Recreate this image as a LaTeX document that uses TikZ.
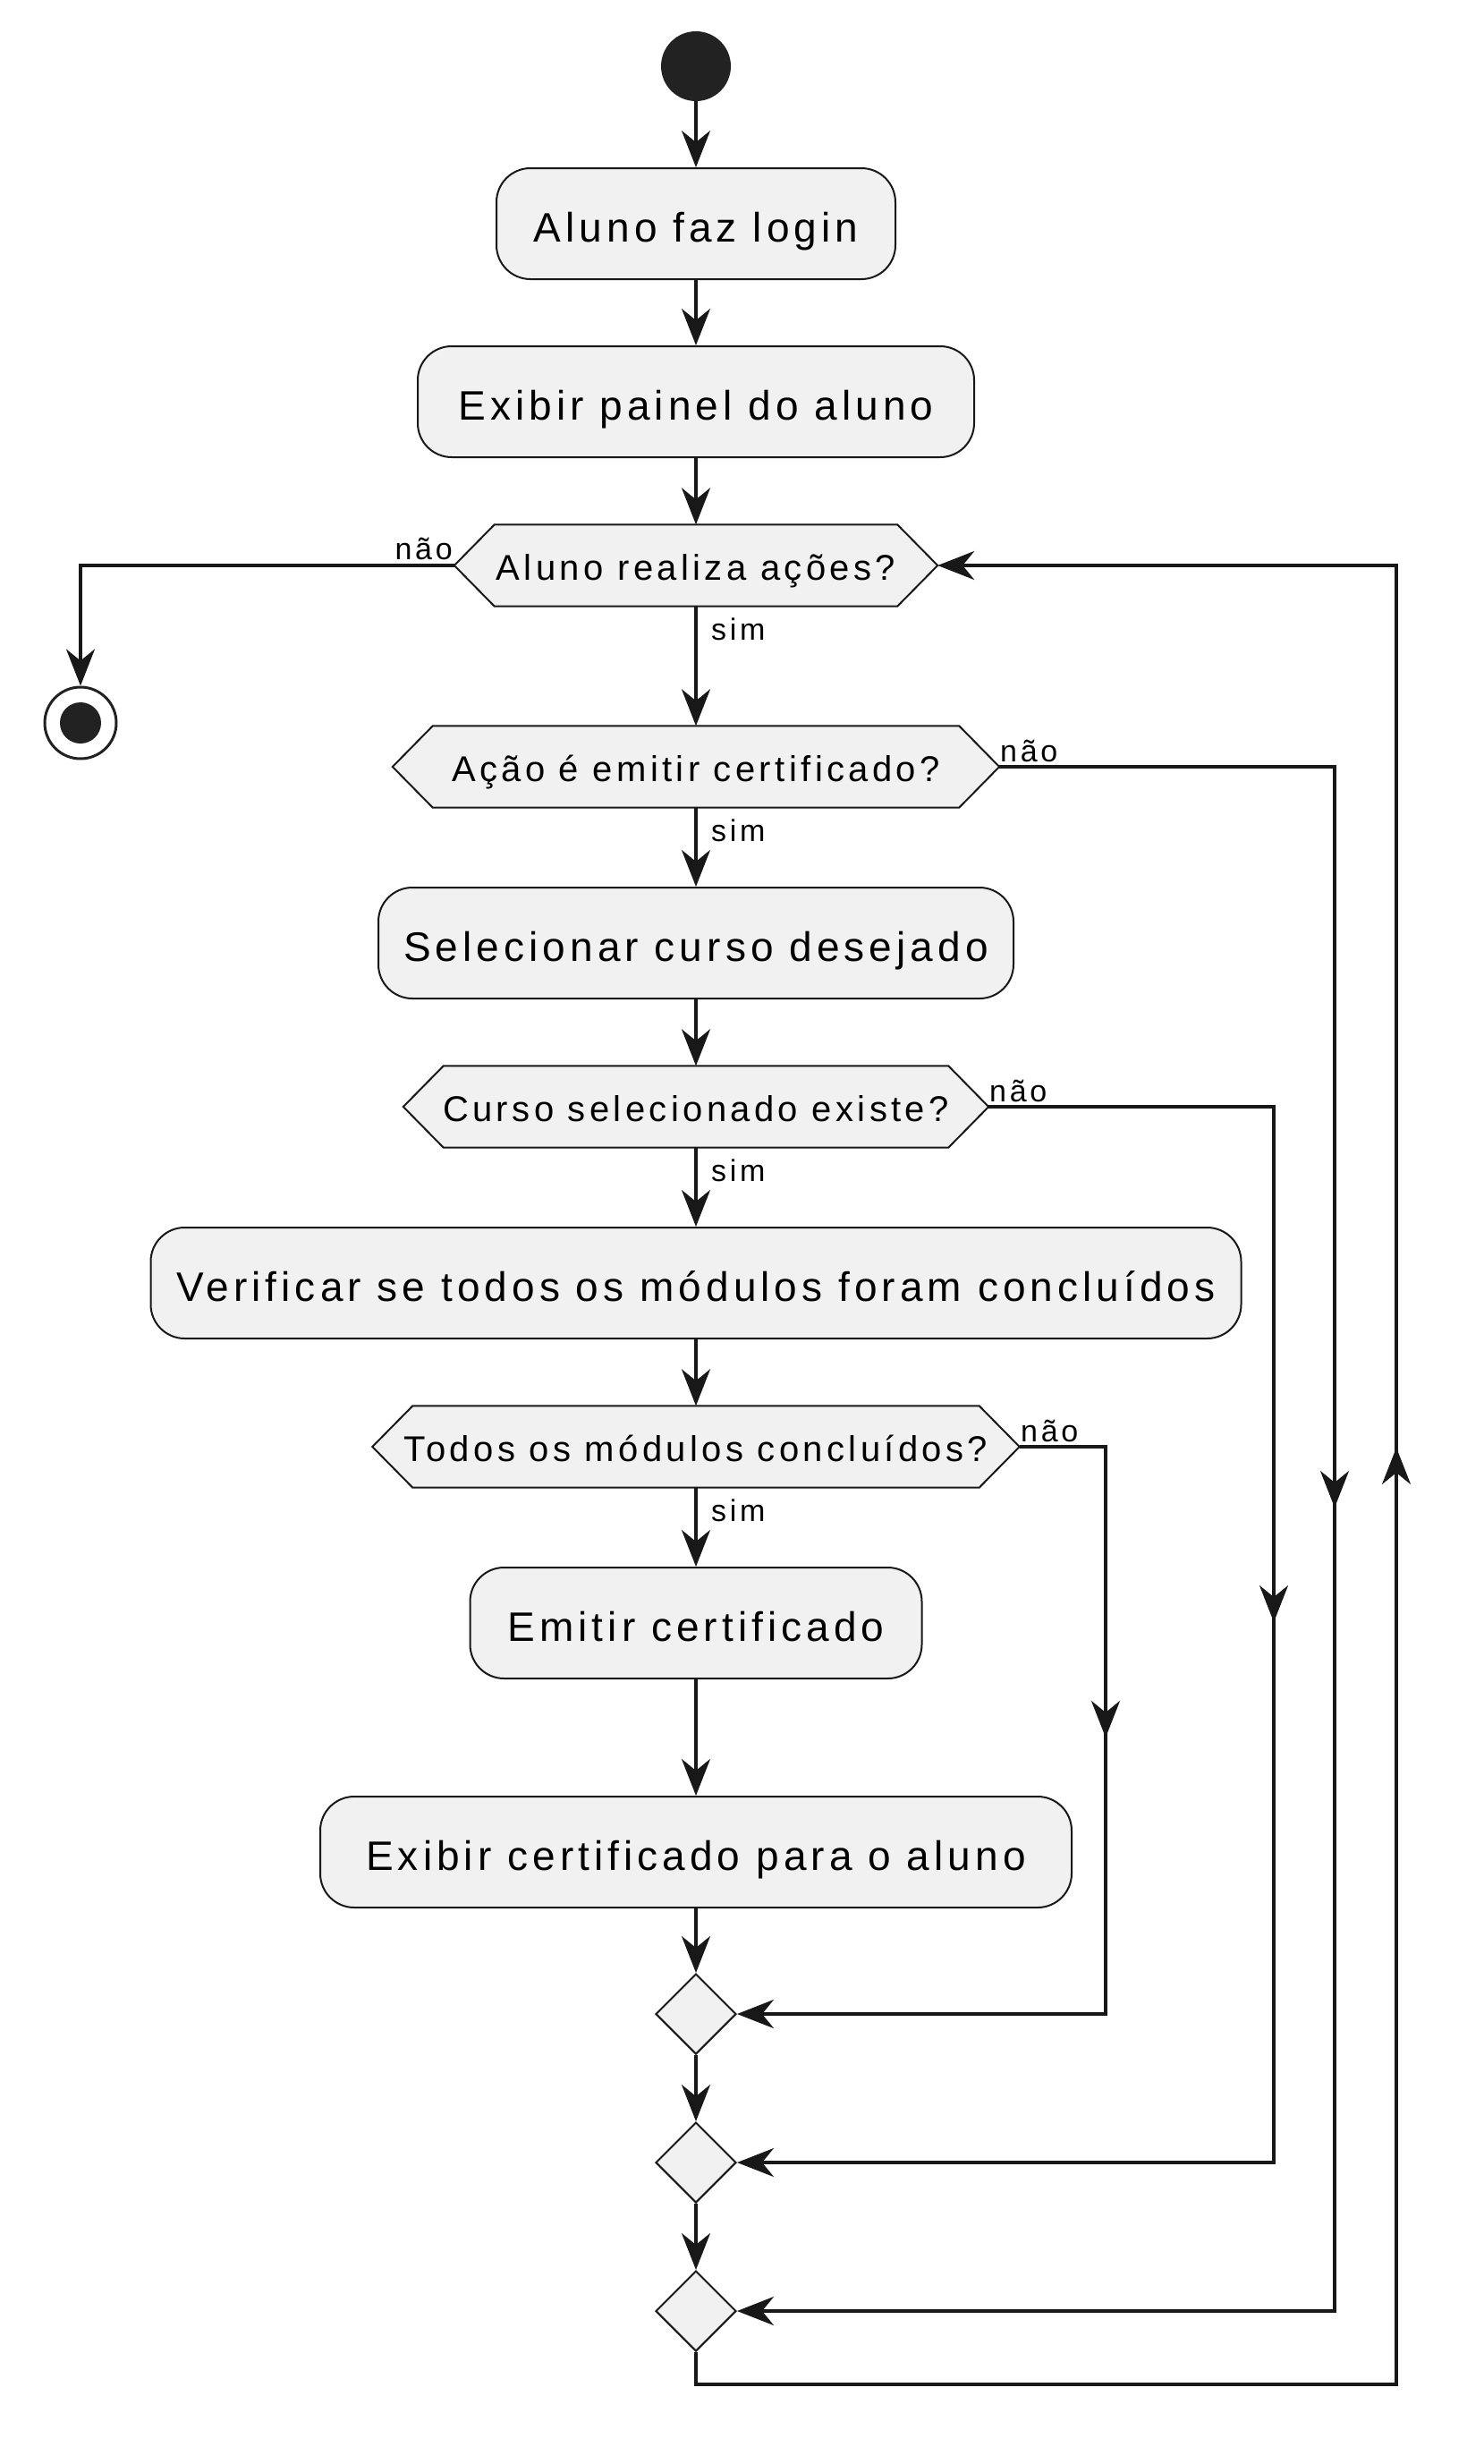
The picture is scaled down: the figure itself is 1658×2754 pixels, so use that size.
\documentclass[tikz,border=0pt]{standalone}
\usepackage{fontspec}
\setmainfont{Liberation Sans}
\newfontfamily\spfont[LetterSpace=11]{Liberation Sans}
\usetikzlibrary{arrows.meta,shapes.geometric}
\pgfdeclarelayer{back}
\pgfdeclarelayer{bg}
\pgfsetlayers{back,bg,main}
\definecolor{fillc}{HTML}{F1F1F1}
\definecolor{linec}{HTML}{181818}
\definecolor{dotc}{HTML}{222222}
\begin{document}
\begin{tikzpicture}[x=1pt,y=-1pt,
  act/.style={draw=linec, line width=2pt, fill=fillc, rounded corners=38pt, minimum height=124pt, inner sep=0pt, font=\spfont\fontsize{46}{50}\selectfont, text height=41pt, text depth=0pt},
  dec/.style={inner sep=0pt, minimum height=91pt, font=\spfont\fontsize{40}{46}\selectfont, text height=32pt, text depth=0pt},
  hexline/.style={draw=linec, line width=2pt, fill=fillc},
  merge/.style={diamond, draw=linec, line width=2pt, fill=fillc, minimum width=90pt, minimum height=90pt, inner sep=0pt},
  lbl/.style={inner sep=0pt, font=\spfont\fontsize{34}{40}\selectfont},
  flow/.style={draw=linec, line width=3.3pt, -{Stealth[length=41pt,width=32pt,inset=13pt]}},
]
\useasboundingbox (0,0) rectangle (1658,2754);
\begin{pgfonlayer}{back}
\fill[white] (0,0) rectangle (1658,2754);
\end{pgfonlayer}

% start / end
\node[circle, fill=dotc, minimum size=78pt, inner sep=0pt] (start) at (778,74) {};
\node[circle, draw=dotc, line width=3pt, fill=white, minimum size=80pt, inner sep=0pt] (end) at (90,808) {};
\fill[dotc] (end.center) circle (23pt);

% activities
\node[act, minimum width=446pt] (a1) at (778,250) {Aluno faz login};
\node[act, minimum width=622pt] (a2) at (778,449) {Exibir painel do aluno};
\node[act, minimum width=710pt] (a3) at (778,1054) {Selecionar curso desejado};
\node[act, minimum width=1219pt] (a4) at (778,1434) {Verificar se todos os módulos foram concluídos};
\node[act, minimum width=505pt] (a5) at (778,1814) {Emitir certificado};
\node[act, minimum width=840pt] (a6) at (778,2070) {Exibir certificado para o aluno};

% decisions
\node[dec, minimum width=540pt] (d1) at (778,632) {Aluno realiza ações?};
\node[dec, minimum width=678pt] (d2) at (778,857) {Ação é emitir certificado?};
\node[dec, minimum width=654pt] (d3) at (778,1237) {Curso selecionado existe?};
\node[dec, minimum width=723pt] (d4) at (778,1617) {Todos os módulos concluídos?};
\begin{pgfonlayer}{bg}
\foreach \n in {d1,d2,d3,d4}{
  \path[hexline] (\n.west) -- ([xshift=45pt]\n.north west) -- ([xshift=-45pt]\n.north east)
    -- (\n.east) -- ([xshift=-45pt]\n.south east) -- ([xshift=45pt]\n.south west) -- cycle;}
\end{pgfonlayer}

% merges
\node[merge] (m1) at (778,2251) {};
\node[merge] (m2) at (778,2417) {};
\node[merge] (m3) at (778,2583) {};

% main flow
\draw[flow] (start) -- (a1);
\draw[flow] (a1) -- (a2);
\draw[flow] (a2) -- (d1);
\draw[flow] (d1.west) -| (end.north);
\draw[flow] (d1) -- (d2);
\draw[flow] (d2) -- (a3);
\draw[flow] (a3) -- (d3);
\draw[flow] (d3) -- (a4);
\draw[flow] (a4) -- (d4);
\draw[flow] (d4) -- (a5);
\draw[flow] (a5) -- (a6);
\draw[flow] (a6) -- (m1);
\draw[flow] (m1) -- (m2);
\draw[flow] (m2) -- (m3);

% right branches
\coordinate (r2) at (1492,857);  \coordinate (t2) at (1492,1685);
\coordinate (r3) at (1424,1237); \coordinate (t3) at (1424,1813);
\coordinate (r4) at (1236,1617); \coordinate (t4) at (1236,1942);
\draw[flow] (d2.east) -- (r2) |- (m3.east);
\draw[flow] (r2) -- (t2);
\draw[flow] (d3.east) -- (r3) |- (m2.east);
\draw[flow] (r3) -- (t3);
\draw[flow] (d4.east) -- (r4) |- (m1.east);
\draw[flow] (r4) -- (t4);

% loop back
\coordinate (lb) at (1561,2665); \coordinate (tl) at (1561,1618);
\draw[flow] (m3.south) |- (lb) |- (d1.east);
\draw[flow] (lb) -- (tl);

% labels
\node[lbl, anchor=base east] (l1n) at (506,625) {não};
\node[lbl, anchor=base west] (l1s) at (795,715) {sim};
\node[lbl, anchor=base west] (l2n) at (1118,851) {não};
\node[lbl, anchor=base west] (l2s) at (795,940) {sim};
\node[lbl, anchor=base west] (l3n) at (1106,1231) {não};
\node[lbl, anchor=base west] (l3s) at (795,1320) {sim};
\node[lbl, anchor=base west] (l4n) at (1141,1611) {não};
\node[lbl, anchor=base west] (l4s) at (795,1700) {sim};
\end{tikzpicture}
\end{document}
